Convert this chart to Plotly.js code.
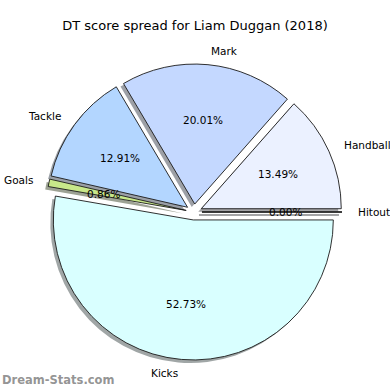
<!DOCTYPE html>
<html>
<head>
<meta charset="utf-8">
<script src="https://cdn.plot.ly/plotly-3.0.1.min.js"></script>
<style>html,body{margin:0;padding:0;background:#fff;}#chart{width:390px;height:390px;}</style>
</head>
<body>
<div id="chart"></div>
<script>
// Data (counter-clockwise from 3 o'clock)
const categories = ["Hitout", "Handball", "Mark", "Tackle", "Goals", "Kicks"];
const percentages = [0.00, 13.49, 20.01, 12.91, 0.86, 52.73];
const sliceColors = ["#f4f8ff", "#ebf1ff", "#c4d8ff", "#b3d6ff", "#c8e88a", "#d9ffff"];
const chartTitle = "DT score spread for Liam Duggan (2018)";
const watermark = "Dream-Stats.com";

// Geometry (pixels)
const W = 390, H = 390;
const cx = 194, cy = 212, R = 140;
const pull = 0.057;
const shadowOff = 3;
const half = R * (1 + pull);

function toDomain(px, py) {
  return {
    x: [(px - half) / W, (px + half) / W],
    y: [1 - (py + half) / H, 1 - (py - half) / H]
  };
}
function hexToRgb(h) {
  const n = parseInt(h.slice(1), 16);
  return [(n >> 16) & 255, (n >> 8) & 255, n & 255];
}
const shadowColors = sliceColors.map(c => {
  const [r, g, b] = hexToRgb(c);
  return `rgba(${Math.round(r*0.3)},${Math.round(g*0.3)},${Math.round(b*0.3)},0.5)`;
});

const shadowTrace = {
  type: "pie", values: percentages, labels: categories, sort: false,
  direction: "counterclockwise", rotation: 90, pull: pull,
  marker: {colors: shadowColors, line: {width: 0}},
  textinfo: "none", hoverinfo: "skip", showlegend: false,
  domain: toDomain(cx - shadowOff, cy + shadowOff)
};
const mainTrace = {
  type: "pie", values: percentages, labels: categories, sort: false,
  direction: "counterclockwise", rotation: 90, pull: pull,
  marker: {colors: sliceColors, line: {color: "#1a1a1a", width: 0.9}},
  textinfo: "none", hoverinfo: "none", showlegend: false,
  domain: toDomain(cx, cy)
};

// Label / percent annotations computed from the data angles
const total = percentages.reduce((a, b) => a + b, 0);
const annotations = [];
const shapes = [];
let cum = 0;
const fnt = {family: "DejaVu Sans", size: 10.5, color: "#000"};
percentages.forEach((v, i) => {
  const a0 = cum / total * 2 * Math.PI;
  cum += v;
  const a1 = cum / total * 2 * Math.PI;
  const am = (a0 + a1) / 2;
  const ex = cx + pull * R * Math.cos(am);
  const ey = cy - pull * R * Math.sin(am);
  const lx = ex + 1.1 * R * Math.cos(am);
  const ly = ey - 1.1 * R * Math.sin(am);
  const leftSide = Math.cos(am) < 0;
  annotations.push({
    xref: "paper", yref: "paper", x: lx / W, y: 1 - ly / H,
    text: categories[i], showarrow: false, font: fnt,
    xanchor: leftSide ? "right" : "left", yanchor: "middle"
  });
  const tx = ex + 0.6 * R * Math.cos(am);
  const ty = ey - 0.6 * R * Math.sin(am);
  annotations.push({
    xref: "paper", yref: "paper", x: tx / W, y: 1 - ty / H,
    text: v.toFixed(2) + "%", showarrow: false, font: fnt,
    xanchor: "center", yanchor: "middle"
  });
  if (v === 0) {
    // zero-width wedge: draw its edge and shadow
    const x2 = ex + R * Math.cos(am), y2 = ey - R * Math.sin(am);
    shapes.push({type: "line", xref: "paper", yref: "paper",
      x0: (ex - shadowOff) / W, y0: 1 - (ey + shadowOff) / H,
      x1: (x2 - shadowOff) / W, y1: 1 - (y2 + shadowOff) / H,
      line: {color: shadowColors[i], width: 2}, layer: "below"});
    shapes.push({type: "line", xref: "paper", yref: "paper",
      x0: ex / W, y0: 1 - ey / H, x1: x2 / W, y1: 1 - y2 / H,
      line: {color: "#1a1a1a", width: 1.2}, layer: "above"});
  }
});
annotations.push({
  xref: "paper", yref: "paper", x: 0, y: 1 - 380 / H,
  text: watermark, showarrow: false,
  font: {family: "DejaVu Sans", size: 11.5, color: "rgba(120,120,120,0.8)", weight: "bold"},
  xanchor: "left", yanchor: "middle"
});

const layout = {
  width: W, height: H,
  margin: {l: 0, r: 0, t: 0, b: 0},
  paper_bgcolor: "#fff",
  title: {text: chartTitle, font: {family: "DejaVu Sans", size: 13, color: "#000"},
          x: 0.5, xanchor: "center", y: 1 - 25 / H, yanchor: "middle"},
  annotations: annotations,
  shapes: shapes
};
Plotly.newPlot("chart", [shadowTrace, mainTrace], layout, {staticPlot: true});
</script>
</body>
</html>
